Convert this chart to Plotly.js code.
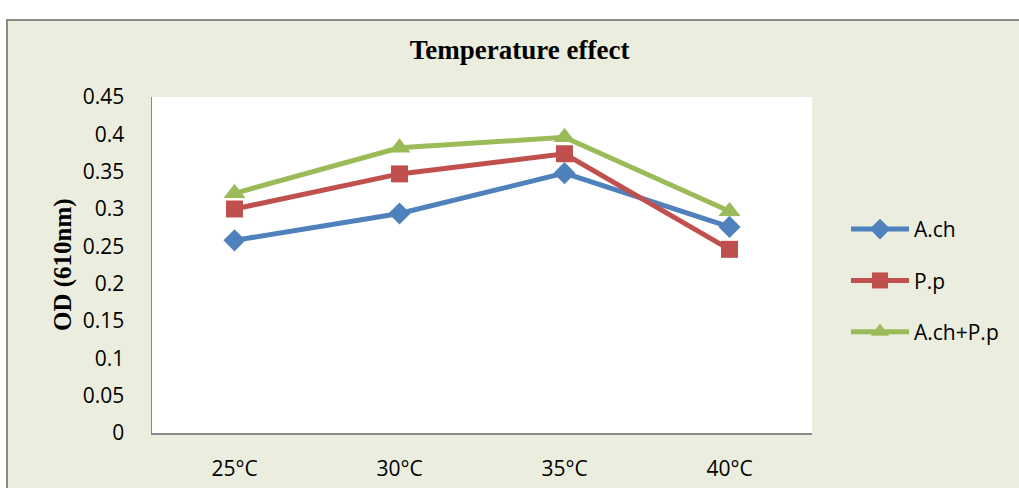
<!DOCTYPE html>
<html>
<head>
<meta charset="utf-8">
<script src="https://cdn.plot.ly/plotly-3.0.1.min.js"></script>
<style>
html,body{margin:0;padding:0;background:#ffffff;width:1019px;height:488px;overflow:hidden;}
#chart{position:absolute;left:6px;top:19px;width:1013px;height:469px;border-left:2px solid #8a8a8a;border-top:2px solid #8a8a8a;}
</style>
</head>
<body>
<div id="chart"></div>
<script>
const categories = ["25°C", "30°C", "35°C", "40°C"];
const seriesNames = ["A.ch", "P.p", "A.ch+P.p"];
const achValues = [0.258, 0.294, 0.348, 0.276];
const ppValues = [0.300, 0.347, 0.374, 0.246];
const comboValues = [0.321, 0.382, 0.396, 0.297];
const yTickValues = [0, 0.05, 0.1, 0.15, 0.2, 0.25, 0.3, 0.35, 0.4, 0.45];
const yTickLabels = ["0", "0.05", "0.1", "0.15", "0.2", "0.25", "0.3", "0.35", "0.4", "0.45"];

const colors = ["#4F81BD", "#C0504D", "#9BBB59"];
const symbols = ["diamond", "square", "triangle-up"];
const sizes = [17, 17, 19];
const allValues = [achValues, ppValues, comboValues];

const traces = allValues.map((vals, i) => ({
  type: "scatter",
  mode: "lines+markers",
  name: seriesNames[i],
  x: categories,
  y: vals,
  legendgroup: "g" + i,
  line: {color: colors[i], width: 5},
  marker: {color: colors[i], symbol: symbols[i], size: sizes[i]}
}));

const layout = {
  width: 1011,
  height: 467,
  paper_bgcolor: "#EBEEDF",
  plot_bgcolor: "#FFFFFF",
  margin: {l: 144, r: 207, t: 76, b: 55},
  showlegend: true,
  title: {
    text: "<b>Temperature effect</b>",
    font: {family: "Liberation Serif, Times New Roman, serif", size: 27, color: "#000"},
    xref: "container", yref: "container",
    x: 0.506, y: 1 - 29/467, xanchor: "center", yanchor: "middle"
  },
  xaxis: {
    type: "category",
    range: [-0.5, 3.5],
    showgrid: false,
    zeroline: false,
    showline: true,
    linecolor: "#8a8a8a",
    linewidth: 1.5,
    ticks: "",
    ticklabelstandoff: 16,
    tickfont: {family: "Open Sans, Liberation Sans, sans-serif", size: 21, color: "#000"},
    fixedrange: true
  },
  yaxis: {
    range: [0, 0.45],
    tickvals: yTickValues,
    ticktext: yTickLabels,
    showgrid: false,
    zeroline: false,
    showline: true,
    linecolor: "#8a8a8a",
    linewidth: 1.5,
    ticks: "",
    ticklabelstandoff: 22,
    tickfont: {family: "Open Sans, Liberation Sans, sans-serif", size: 21, color: "#000"},
    fixedrange: true
  },
  annotations: [{
    text: "<b>OD (610nm)</b>",
    textangle: -90,
    xref: "paper", yref: "paper",
    x: (63 - 152) / 660, y: 0.5,
    xanchor: "center", yanchor: "middle",
    showarrow: false,
    font: {family: "Liberation Serif, Times New Roman, serif", size: 25, color: "#000"}
  }],
  legend: {
    x: (846 - 152) / 660,
    y: 0.454,
    xanchor: "left",
    yanchor: "middle",
    traceorder: "grouped",
    tracegroupgap: 21,
    itemwidth: 58,
    bgcolor: "rgba(0,0,0,0)",
    font: {family: "Open Sans, Liberation Sans, sans-serif", size: 21, color: "#000"}
  }
};

Plotly.newPlot("chart", traces, layout, {displayModeBar: false, staticPlot: true});
</script>
</body>
</html>
